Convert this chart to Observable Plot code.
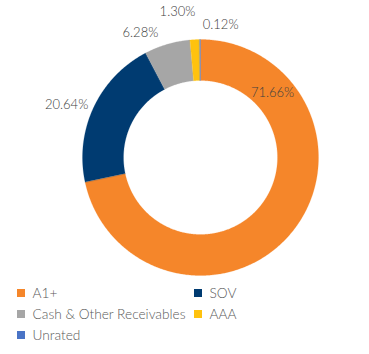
<!DOCTYPE html>
<html>
<head>
<meta charset="utf-8">
<script src="https://cdn.jsdelivr.net/npm/d3@7"></script>
<script src="https://cdn.jsdelivr.net/npm/@observablehq/plot@0.6"></script>
<style>
  html, body { margin: 0; padding: 0; background: #fff; }
  #chart svg { display: block; }
</style>
</head>
<body>
<div id="chart"></div>
<script>
// ---- data ----
const categories = ["A1+", "SOV", "Cash & Other Receivables", "AAA", "Unrated"];
const values = [71.66, 20.64, 6.28, 1.30, 0.12];
const labels = ["71.66%", "20.64%", "6.28%", "1.30%", "0.12%"];
const colors = ["#F5862A", "#003B71", "#A6A6A6", "#FFC20E", "#4A74C6"];

// ---- layout ----
const W = 369, H = 354;
const cx = 200, cy = 157, rOuter = 118, rInner = 77;
// label placement (angle in degrees clockwise from 12 o'clock, radius in px)
const labelAngle = [48, 291.6, 334.2, 351, 8.6];
const labelRadius = [97, 144, 138, 147, 134.5];

const total = d3.sum(values);
let cum = 0;
const slices = values.map((v, i) => {
  const a0 = cum / total * 2 * Math.PI;
  cum += v;
  const a1 = cum / total * 2 * Math.PI;
  return {cat: categories[i], i, a0, a1};
});

const pt = (a, r) => [cx + r * Math.sin(a), cy - r * Math.cos(a)];
const poly = [];
for (const s of slices) {
  const n = Math.max(2, Math.ceil((s.a1 - s.a0) / (Math.PI / 360)));
  const pts = [];
  for (let k = 0; k <= n; k++) pts.push(pt(s.a0 + (s.a1 - s.a0) * k / n, rOuter));
  for (let k = n; k >= 0; k--) pts.push(pt(s.a0 + (s.a1 - s.a0) * k / n, rInner));
  pts.forEach(([x, y]) => poly.push({x, y, cat: s.cat}));
}

const labelData = labels.map((t, i) => {
  const [x, y] = pt(labelAngle[i] * Math.PI / 180, labelRadius[i]);
  return {x, y, t};
});

const legend = categories.map((c, i) => ({
  cat: c,
  col: i % 2,
  row: Math.floor(i / 2)
}));
const legX = [17, 194], legY0 = 289, legDy = 21, sq = 8;

const chart = Plot.plot({
  width: W,
  height: H,
  margin: 0,
  x: {domain: [0, W], range: [0, W], axis: null},
  y: {domain: [0, H], range: [0, H], axis: null},
  color: {domain: categories, range: colors},
  style: {fontFamily: "Lato, sans-serif", background: "#fff"},
  marks: [
    Plot.line(poly, {x: "x", y: "y", z: "cat", fill: "cat", stroke: "cat", strokeWidth: 0.2, curve: "linear-closed"}),
    Plot.text(labelData, {x: "x", y: "y", text: "t", fill: "#404040", fontSize: 13, fontWeight: 300}),
    Plot.rect(legend, {
      x1: d => legX[d.col], x2: d => legX[d.col] + sq,
      y1: d => legY0 + d.row * legDy, y2: d => legY0 + d.row * legDy + sq,
      fill: "cat"
    }),
    Plot.text(legend, {
      x: d => legX[d.col] + sq + 7, y: d => legY0 + d.row * legDy + sq / 2,
      text: "cat", textAnchor: "start", fill: "#595959", fontSize: 13.7, fontWeight: 300
    })
  ]
});
document.getElementById("chart").appendChild(chart);
</script>
</body>
</html>
